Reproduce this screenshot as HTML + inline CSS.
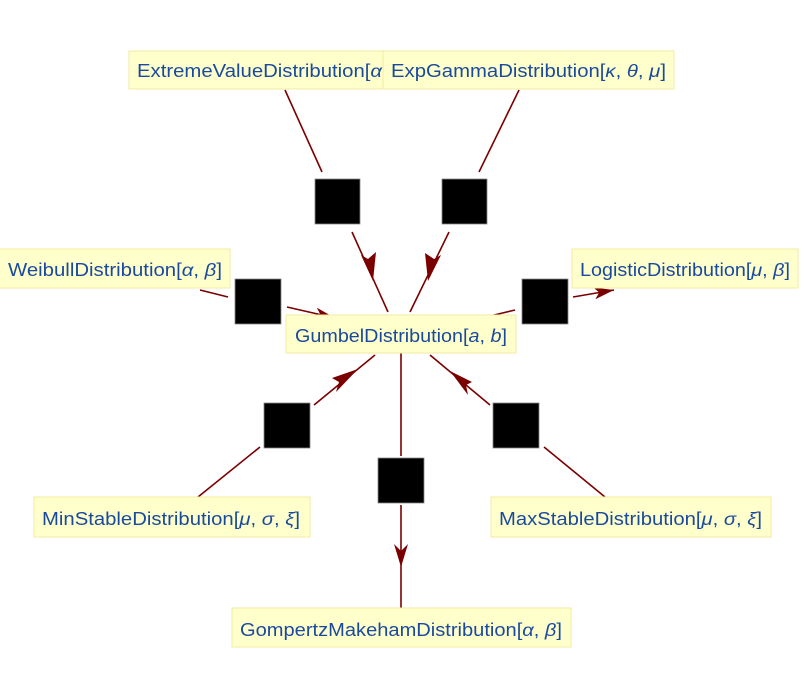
<!DOCTYPE html>
<html><head><meta charset="utf-8"><style>
html,body{margin:0;padding:0;background:#fff;}
svg{display:block}
text{font-family:"Liberation Sans",sans-serif;font-size:18px;fill:#1a4a9e}
.b{fill:#ffffcc;stroke:#f0eba0;stroke-width:1}
.l{stroke:#7a0000;stroke-width:1.6;fill:none}
.a{fill:#7a0000}
.s{fill:#000;stroke:#888;stroke-width:0.8}
</style></head><body>
<svg width="804" height="700" viewBox="0 0 804 700">
<defs>
<marker id="m" viewBox="0 0 20 12" refX="20" refY="6" markerWidth="20" markerHeight="12" markerUnits="userSpaceOnUse" orient="auto">
<path d="M0,0 L20,6 L0,12 L5,6 Z" class="a"/>
</marker>
</defs>
<line class="l" x1="285" y1="90" x2="322" y2="172"/>
<line class="l" x1="352" y1="232" x2="388" y2="312" />
<path class="a" d="M373,281 L361,255 L368,259 L376,252 Z"/>
<line class="l" x1="519" y1="90" x2="479" y2="172"/>
<line class="l" x1="449" y1="232" x2="410" y2="312"/>
<path class="a" d="M428,281 L441,255 L434,259 L425,253 Z"/>
<line class="l" x1="200" y1="290" x2="228" y2="297"/>
<line class="l" x1="287" y1="307" x2="335" y2="318" marker-end="url(#m)"/>
<line class="l" x1="490" y1="316" x2="515" y2="310"/>
<line class="l" x1="573" y1="297" x2="614" y2="290" marker-end="url(#m)"/>
<line class="l" x1="198" y1="497" x2="260" y2="447"/>
<line class="l" x1="314" y1="405" x2="375" y2="355" />
<path class="a" d="M358,369 L332,378 L339,382 L336,392 Z"/>
<line class="l" x1="605" y1="497" x2="544" y2="447"/>
<line class="l" x1="490" y1="405" x2="430" y2="355"/>
<path class="a" d="M450,371 L472,382 L466,385 L468,395 Z"/>
<line class="l" x1="401" y1="353" x2="401" y2="456"/>
<line class="l" x1="401" y1="505" x2="401" y2="608"/>
<path class="a" d="M401,567 L394,544 L401,551 L408,544 Z"/>
<rect class="s" x="315" y="179" width="45" height="45"/>
<rect class="s" x="442" y="179" width="45" height="45"/>
<rect class="s" x="235" y="279" width="46" height="45"/>
<rect class="s" x="522" y="279" width="46" height="45"/>
<rect class="s" x="264" y="403" width="46" height="45"/>
<rect class="s" x="493" y="403" width="46" height="45"/>
<rect class="s" x="378" y="458" width="46" height="45"/>
<rect class="b" x="129" y="51" width="260" height="38"/>
<text x="137" y="77" textLength="245" lengthAdjust="spacingAndGlyphs">ExtremeValueDistribution[<tspan font-style="italic">α</tspan></text>
<rect class="b" x="383" y="51" width="291" height="38"/>
<text x="391" y="77" textLength="275" lengthAdjust="spacingAndGlyphs">ExpGammaDistribution[<tspan font-style="italic">κ</tspan>, <tspan font-style="italic">θ</tspan>, <tspan font-style="italic">μ</tspan>]</text>
<rect class="b" x="-1" y="249" width="231" height="39"/>
<text x="8" y="276" textLength="214" lengthAdjust="spacingAndGlyphs">WeibullDistribution[<tspan font-style="italic">α</tspan>, <tspan font-style="italic">β</tspan>]</text>
<rect class="b" x="572" y="249" width="226" height="39"/>
<text x="580" y="276" textLength="210" lengthAdjust="spacingAndGlyphs">LogisticDistribution[<tspan font-style="italic">μ</tspan>, <tspan font-style="italic">β</tspan>]</text>
<rect class="b" x="286" y="315" width="230" height="38"/>
<text x="295" y="342" textLength="212" lengthAdjust="spacingAndGlyphs">GumbelDistribution[<tspan font-style="italic">a</tspan>, <tspan font-style="italic">b</tspan>]</text>
<rect class="b" x="34" y="497" width="276" height="40"/>
<text x="42" y="525" textLength="258" lengthAdjust="spacingAndGlyphs">MinStableDistribution[<tspan font-style="italic">μ</tspan>, <tspan font-style="italic">σ</tspan>, <tspan font-style="italic">ξ</tspan>]</text>
<rect class="b" x="491" y="497" width="280" height="40"/>
<text x="499" y="525" textLength="263" lengthAdjust="spacingAndGlyphs">MaxStableDistribution[<tspan font-style="italic">μ</tspan>, <tspan font-style="italic">σ</tspan>, <tspan font-style="italic">ξ</tspan>]</text>
<rect class="b" x="232" y="608" width="339" height="39"/>
<text x="240" y="636" textLength="322" lengthAdjust="spacingAndGlyphs">GompertzMakehamDistribution[<tspan font-style="italic">α</tspan>, <tspan font-style="italic">β</tspan>]</text>
</svg>
</body></html>
